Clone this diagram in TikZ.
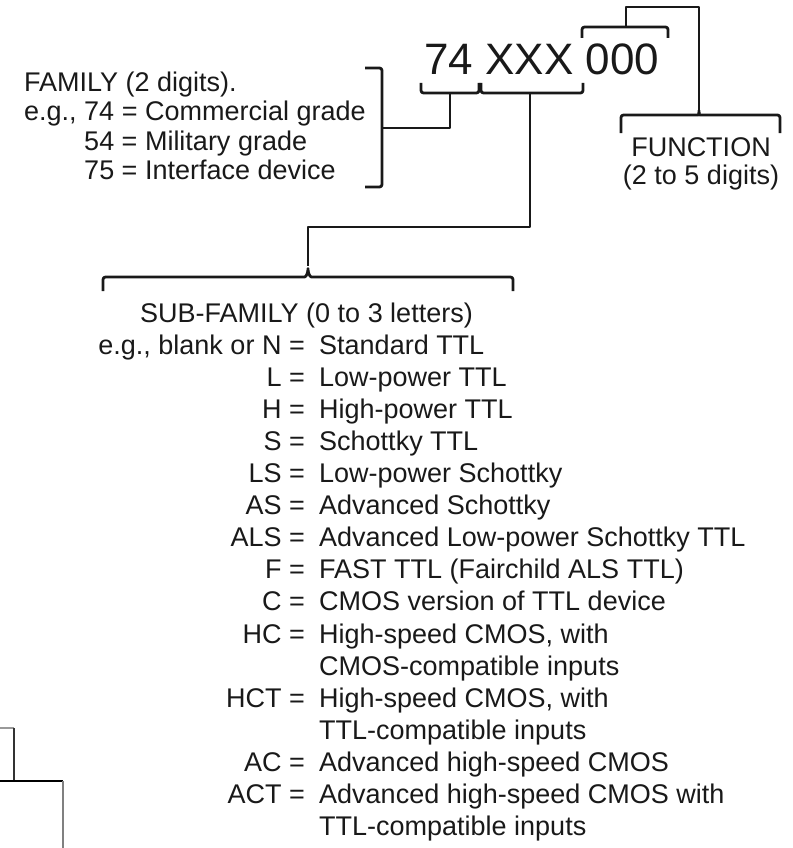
\documentclass[tikz,border=0pt]{standalone}
\usepackage{fontspec}
\setmainfont{Liberation Sans}
\begin{document}
\begin{tikzpicture}[x=1pt,y=-1pt,
  txt/.style={inner sep=0pt, text=black!90, font=\fontsize{27}{30}\selectfont},
  big/.style={inner sep=0pt, text=black!90, font=\fontsize{44}{50}\selectfont},
  brk/.style={line width=2.8pt, draw=black!90, rounded corners=2.5pt, line join=round},
  edgeline/.style={line width=2.2pt}]
\path[use as bounding box] (0,0) rectangle (792,848);

% main code
\node[big, anchor=base west] (code) at (424,75) {74 XXX 000};

% family text
\node[txt, anchor=base west] (fam1) at (24,92) {FAMILY (2 digits).};
\node[txt, anchor=base west] (fam2) at (24,121) {e.g., 74 = Commercial grade};
\node[txt, anchor=base west] (fam3) at (24,150) {\phantom{e.g., }54 = Military grade};
\node[txt, anchor=base west] (fam4) at (24,179) {\phantom{e.g., }75 = Interface device};

% function text
\node[txt, anchor=base] (fn1) at (701,156) {FUNCTION};
\node[txt, anchor=base] (fn2) at (701,184) {(2 to 5 digits)};

% sub-family text
\node[txt, anchor=base west] (sub) at (140,322) {SUB-FAMILY (0 to 3 letters)};
\def\lx{305}\def\dx{319}
\node[txt, anchor=base east] (l1) at (\lx,354.1) {e.g., blank or N =};
\node[txt, anchor=base west] (d1) at (\dx,354.1) {Standard TTL};
\node[txt, anchor=base east] (l2) at (\lx,386.2) {L =};
\node[txt, anchor=base west] (d2) at (\dx,386.2) {Low-power TTL};
\node[txt, anchor=base east] (l3) at (\lx,418.3) {H =};
\node[txt, anchor=base west] (d3) at (\dx,418.3) {High-power TTL};
\node[txt, anchor=base east] (l4) at (\lx,450.4) {S =};
\node[txt, anchor=base west] (d4) at (\dx,450.4) {Schottky TTL};
\node[txt, anchor=base east] (l5) at (\lx,482.5) {LS =};
\node[txt, anchor=base west] (d5) at (\dx,482.5) {Low-power Schottky};
\node[txt, anchor=base east] (l6) at (\lx,514.6) {AS =};
\node[txt, anchor=base west] (d6) at (\dx,514.6) {Advanced Schottky};
\node[txt, anchor=base east] (l7) at (\lx,546.7) {ALS =};
\node[txt, anchor=base west] (d7) at (\dx,546.7) {Advanced Low-power Schottky TTL};
\node[txt, anchor=base east] (l8) at (\lx,578.8) {F =};
\node[txt, anchor=base west] (d8) at (\dx,578.8) {FAST TTL (Fairchild ALS TTL)};
\node[txt, anchor=base east] (l9) at (\lx,610.9) {C =};
\node[txt, anchor=base west] (d9) at (\dx,610.9) {CMOS version of TTL device};
\node[txt, anchor=base east] (l10) at (\lx,643.0) {HC =};
\node[txt, anchor=base west] (d10) at (\dx,643.0) {High-speed CMOS, with};
\node[txt, anchor=base west] (d11) at (\dx,675.1) {CMOS-compatible inputs};
\node[txt, anchor=base east] (l12) at (\lx,707.2) {HCT =};
\node[txt, anchor=base west] (d12) at (\dx,707.2) {High-speed CMOS, with};
\node[txt, anchor=base west] (d13) at (\dx,739.3) {TTL-compatible inputs};
\node[txt, anchor=base east] (l14) at (\lx,771.4) {AC =};
\node[txt, anchor=base west] (d14) at (\dx,771.4) {Advanced high-speed CMOS};
\node[txt, anchor=base east] (l15) at (\lx,803.5) {ACT =};
\node[txt, anchor=base west] (d15) at (\dx,803.5) {Advanced high-speed CMOS with};
\node[txt, anchor=base west] (d16) at (\dx,835.6) {TTL-compatible inputs};

% brackets under 74 and XXX
\draw[brk] (421,83) -- (421,93) -- (479,93) -- (479,83);
\draw[brk] (481,83) -- (481,93) -- (583,93) -- (583,83);
% bracket over 000
\draw[brk] (582,38) -- (582,27) -- (668,27) -- (668,38);

% family bracket and link
\draw[brk] (365,68) -- (382,68) -- (382,187) -- (365,187);
\draw[brk, rounded corners=0pt] (382,128) -- (450,128) -- (450,93);

% function link and brace
\draw[brk, rounded corners=0pt] (626,27) -- (626,7) -- (699,7) -- (699,110);
\draw[brk] (621,133) -- (621,115) -- (696,115) to[out=0,in=270] (699,109)
  to[out=270,in=180] (702,115) -- (780,115) -- (780,133);

% sub-family link and brace
\draw[brk, rounded corners=0pt] (530,93) -- (530,227) -- (308,227) -- (308,266);
\draw[brk] (103,291) -- (103,277) -- (302,277) to[out=0,in=270] (308,267)
  to[out=270,in=180] (314,277) -- (513,277) -- (513,291);

% remnants of a frame at the bottom left
\draw[edgeline, draw=black!40] (0,728) -- (14,728);
\draw[edgeline, draw=black!80] (14,728) -- (14,781);
\draw[edgeline, draw=black] (0,781) -- (63,781);
\draw[edgeline, draw=black!50] (63,781) -- (63,848);
\end{tikzpicture}
\end{document}
